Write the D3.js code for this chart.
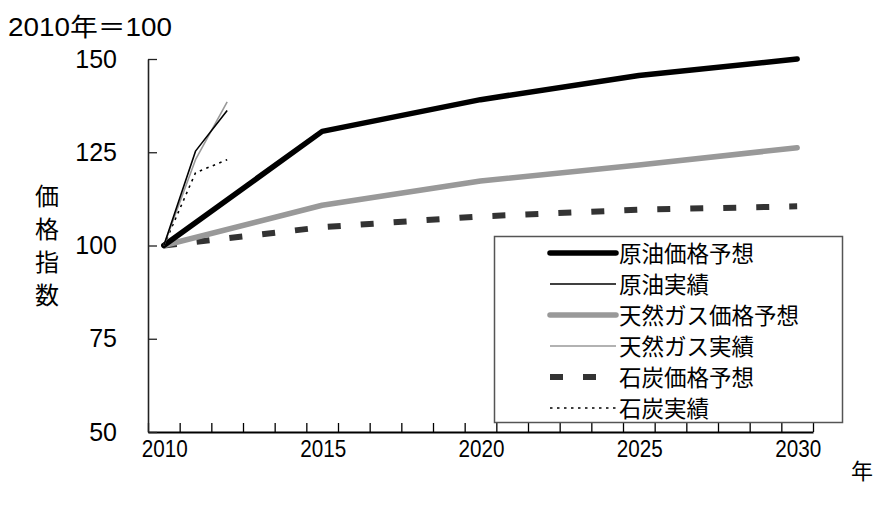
<!DOCTYPE html>
<html>
<head>
<meta charset="utf-8">
<script src="https://cdn.jsdelivr.net/npm/d3@7"></script>
<style>
body { margin:0; background:#fff; }
svg { display:block; }
.num { font-family: "Liberation Sans", Arial, sans-serif; }
.jp { font-family: "Noto Sans CJK JP", sans-serif; }
</style>
</head>
<body>
<div id="chart"></div>
<script>
// forecast years and actual years
var years_forecast = [2010, 2015, 2020, 2025, 2030];
var years_actual = [2010, 2011, 2012];

var oil_forecast = [100, 130.6, 139.1, 145.6, 150];
var gas_forecast = [100, 110.8, 117.3, 121.6, 126.2];
var coal_forecast = [100, 104.9, 107.8, 109.6, 110.5];

var oil_actual = [100, 125.3, 136.2];
var gas_actual = [100, 123, 138.5];
var coal_actual = [100, 119.5, 123];

var x_labels = [2010, 2015, 2020, 2025, 2030];
var y_ticks = [50, 75, 100, 125, 150];

var series = [
  {name:"原油価格予想", years:years_forecast, vals:oil_forecast, color:"#000", w:5.5, dash:null, cap:"round"},
  {name:"原油実績", years:years_actual, vals:oil_actual, color:"#000", w:1.6, dash:null, cap:"butt"},
  {name:"天然ガス価格予想", years:years_forecast, vals:gas_forecast, color:"#999", w:5.5, dash:null, cap:"round"},
  {name:"天然ガス実績", years:years_actual, vals:gas_actual, color:"#999", w:1.6, dash:null, cap:"butt"},
  {name:"石炭価格予想", years:years_forecast, vals:coal_forecast, color:"#333", w:6, dash:"13,20", cap:"butt"},
  {name:"石炭実績", years:years_actual, vals:coal_actual, color:"#000", w:1.6, dash:"2.5,4.5", cap:"butt"}
];

var width = 877, height = 507;
var svg = d3.select("#chart").append("svg")
  .attr("width", width)
  .attr("height", height);

var x = d3.scaleLinear().domain([2009.5, 2030.5]).range([148, 813]);
var y = d3.scaleLinear().domain([50, 150]).range([432, 59]);

// x axis: ticks between the yearly categories, pointing up
var bounds = d3.range(2009.5, 2031, 1);
svg.append("g")
  .attr("transform", "translate(0," + y(50) + ")")
  .call(d3.axisBottom(x).tickValues(bounds).tickSize(-9).tickSizeOuter(0).tickFormat(""))
  .call(function(g){
    g.select(".domain").attr("stroke", "#000").attr("stroke-width", 2);
    g.selectAll(".tick line").attr("stroke", "#000").attr("stroke-width", 1.3);
  });

// x labels
svg.append("g")
  .selectAll("text")
  .data(x_labels)
  .enter().append("text")
  .attr("class", "num")
  .attr("x", function(d){ return x(d) + 1; })
  .attr("y", 457)
  .attr("text-anchor", "middle")
  .attr("font-size", 24)
  .attr("textLength", 46)
  .attr("lengthAdjust", "spacingAndGlyphs")
  .text(function(d){ return d; });

// y axis
svg.append("g")
  .attr("transform", "translate(" + x(2009.5) + ",0)")
  .call(d3.axisLeft(y).tickValues(y_ticks).tickSize(-9).tickSizeOuter(0).tickPadding(31))
  .call(function(g){
    g.select(".domain").attr("stroke", "#222").attr("stroke-width", 1.6);
    g.selectAll(".tick line").attr("stroke", "#222").attr("stroke-width", 1.3);
    g.selectAll(".tick text")
      .attr("class", "num")
      .attr("font-size", 25)
      .attr("fill", "#000");
  });

// lines
var line = d3.line()
  .x(function(d){ return x(d[0]); })
  .y(function(d){ return y(d[1]); });

// draw forecasts first, then actuals on top
var order = [4, 2, 0, 5, 3, 1];
order.forEach(function(i){
  var s = series[i];
  var pts = s.years.map(function(yr, k){ return [yr, s.vals[k]]; });
  svg.append("path")
    .attr("d", line(pts))
    .attr("fill", "none")
    .attr("stroke", s.color)
    .attr("stroke-width", s.w)
    .attr("stroke-linecap", s.cap)
    .attr("stroke-linejoin", "round")
    .attr("stroke-dasharray", s.dash);
});

// legend
var lg = svg.append("g");
lg.append("rect")
  .attr("x", 494.5)
  .attr("y", 236.5)
  .attr("width", 348)
  .attr("height", 186)
  .attr("fill", "#fff")
  .attr("stroke", "#555")
  .attr("stroke-width", 1.5);

var items = lg.selectAll(".item")
  .data(series)
  .enter().append("g")
  .attr("class", "item")
  .attr("transform", function(d, i){ return "translate(0," + (253 + i * 31) + ")"; });

items.append("line")
  .attr("x1", 550).attr("x2", 616)
  .attr("y1", 0).attr("y2", 0)
  .attr("stroke", function(d){ return d.color; })
  .attr("stroke-width", function(d){ return d.w; })
  .attr("stroke-linecap", function(d){ return d.cap; })
  .attr("stroke-dasharray", function(d){ return d.dash; });

items.append("text")
  .attr("class", "jp")
  .attr("x", 619)
  .attr("y", 8.5)
  .attr("font-size", 22.5)
  .text(function(d){ return d.name; });

// title and axis names
svg.append("text")
  .attr("x", 8)
  .attr("y", 36)
  .attr("font-size", 25)
  .attr("font-family", "'Liberation Sans', 'Noto Sans CJK JP', sans-serif")
  .attr("textLength", 164)
  .attr("lengthAdjust", "spacingAndGlyphs")
  .text("2010年＝100");

svg.append("g")
  .selectAll("text")
  .data("価格指数".split(""))
  .enter().append("text")
  .attr("class", "jp")
  .attr("x", 47)
  .attr("y", 205 + 0)
  .attr("dy", function(d, i){ return i * 33; })
  .attr("text-anchor", "middle")
  .attr("font-size", 24)
  .text(function(d){ return d; });

svg.append("text")
  .attr("class", "jp")
  .attr("x", 862)
  .attr("y", 479)
  .attr("text-anchor", "middle")
  .attr("font-size", 22)
  .text("年");
</script>
</body>
</html>
